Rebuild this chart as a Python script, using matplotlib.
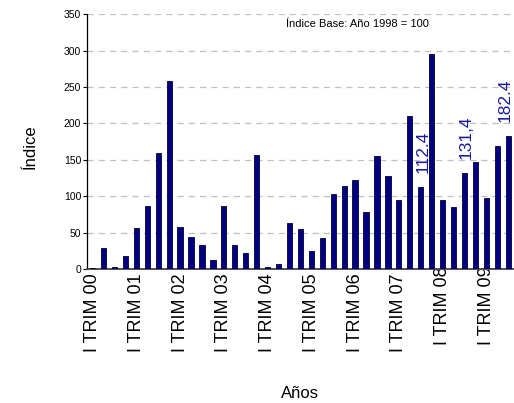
import matplotlib
matplotlib.use('Agg')
import matplotlib.pyplot as plt
import matplotlib.transforms as mtransforms
import numpy as np

plt.rcParams['font.family'] = ['Liberation Sans', 'DejaVu Sans']

# quarterly index values, I TRIM 2000 .. III TRIM 2009
valores = [1.5, 28.5, 3, 18, 56, 87, 159, 258,
           57.5, 43.5, 33, 12.5, 87, 33, 21.5, 156.5,
           3, 6.5, 62.5, 55, 24.5, 43, 103, 114,
           122, 78, 155, 128, 95, 210, 112.4, 295,
           95, 85, 131.4, 147, 97, 169, 182.4]
etiquetas_x = ['I TRIM 00', 'I TRIM 01', 'I TRIM 02', 'I TRIM 03', 'I TRIM 04',
               'I TRIM 05', 'I TRIM 06', 'I TRIM 07', 'I TRIM 08', 'I TRIM 09']
# bars with a printed value
marcados = {30: '112.4', 34: '131,4', 38: '182.4'}

fig = plt.figure(figsize=(5.14, 4.03), dpi=100)
ax = fig.add_axes([0.169, 0.3325, 0.829, 0.6325])

x = np.arange(len(valores))
ax.bar(x, valores, width=0.48, color='#000080', edgecolor='#00003a', linewidth=0.6, zorder=3)

desplaz = {30: 1.5, 34: 1, 38: -2}
for i, txt in marcados.items():
    ax.annotate(txt, xy=(x[i], valores[i]), xytext=(desplaz[i], 10), textcoords='offset points',
                rotation=90, ha='center', va='bottom', fontsize=12.5, color='#1a1aa0',
                annotation_clip=False)

ax.set_xlim(-0.52, 38.43)
ax.set_ylim(0, 350)
ax.set_yticks(np.arange(0, 351, 50))
ax.tick_params(axis='y', direction='out', length=3, width=0.8, labelsize=7.5, pad=1)
ax.set_xticks(x[::4])
ax.set_xticklabels(etiquetas_x, rotation=90, fontsize=13, va='top', ha='center')
ax.tick_params(axis='x', length=0, pad=3)
for lbl in ax.get_xticklabels()[-2:]:
    lbl.set_transform(lbl.get_transform() +
                      mtransforms.ScaledTranslation(0, 5 / 72, fig.dpi_scale_trans))

ax.grid(axis='y', linestyle=(0, (5, 4)), color='#c0c0c0', linewidth=0.9, zorder=0)
ax.spines['top'].set_visible(False)
ax.spines['right'].set_visible(False)
ax.spines['left'].set_linewidth(0.9)
ax.spines['bottom'].set_color('#505050')
ax.spines['bottom'].set_linewidth(1.4)

ax.text(0.635, 0.96, 'Índice Base: Año 1998 = 100', transform=ax.transAxes,
        ha='center', va='center', fontsize=8)

fig.text(30 / 514, 1 - 147 / 403, 'Índice', rotation=90, ha='center', va='center', fontsize=12)
fig.text(300 / 514, 1 - 393 / 403, 'Años', ha='center', va='center', fontsize=12)

fig.savefig('out.png', dpi=100)
